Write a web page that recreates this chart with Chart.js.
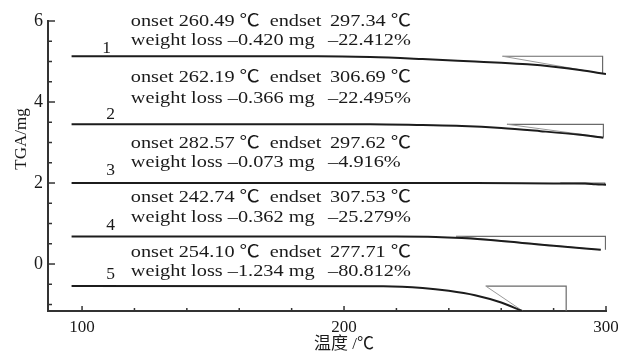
<!DOCTYPE html>
<html>
<head>
<meta charset="utf-8">
<script src="https://cdn.jsdelivr.net/npm/chart.js@4/dist/chart.umd.min.js"></script>
<style>
  html, body { margin: 0; padding: 0; background: #fff; }
  canvas { display: block; }
</style>
</head>
<body>
<canvas id="tga" width="618" height="357"></canvas>
<script>
// ---- TGA results for five samples ----
const sampleNames = ['1', '2', '3', '4', '5'];
const onsetC  = [260.49, 262.19, 282.57, 242.74, 254.10];
const endsetC = [297.34, 306.69, 297.62, 307.53, 277.71];
const lossMg  = ['–0.420', '–0.366', '–0.073', '–0.362', '–1.234'];
const lossPct = ['–22.412', '–22.495', '–4.916', '–25.279', '–80.812'];

// Mass curves (temperature in ℃, mass in mg, each trace offset vertically)
const temp1 = [96, 190, 210, 230, 250, 260, 270, 280, 290, 300];
const mass1 = [5.13, 5.13, 5.11, 5.06, 5.00, 4.97, 4.93, 4.87, 4.79, 4.69];
const temp2 = [96, 210, 230, 245, 260, 275, 290, 299];
const mass2 = [3.45, 3.45, 3.43, 3.41, 3.36, 3.28, 3.19, 3.12];
const temp3 = [96, 250, 280, 292, 296, 300];
const mass3 = [2.00, 2.00, 1.99, 1.985, 1.97, 1.96];
const temp4 = [96, 220, 235, 245, 260, 280, 298];
const mass4 = [0.68, 0.68, 0.67, 0.64, 0.57, 0.45, 0.35];
const temp5 = [96, 215, 230, 240, 250, 260, 268];
const mass5 = [-0.545, -0.55, -0.59, -0.66, -0.77, -0.95, -1.16];

// Step-evaluation box: right edge temperature, and mass at the end of the step
const boxEndC   = [298.7, 299.0, 299.5, 299.8, 284.8];
const boxLowMg  = [4.70, 3.13, 1.96, 0.35, -1.16];
// Tangent line end point
const tanEndC   = [298.7, 299.0, 299.5, 298.0, 268.2];
const tanEndMg  = [4.70, 3.13, 1.96, 0.35, -1.16];

// Axis ticks
const xTickValues = [100, 200, 300];
const yTickValues = [0, 2, 4, 6];

const temps  = [temp1, temp2, temp3, temp4, temp5];
const masses = [mass1, mass2, mass3, mass4, mass5];

// ---- layout of the text notes (data coordinates) ----
const notePos = {
  textX: 118.6, endsetX: 171.6, endValX: 194.6, pctX: 193.9,
  line1Y: [6.00, 4.60, 2.97, 1.65, 0.29],
  line2Y: [5.51, 4.08, 2.51, 1.15, -0.19],
  idX: [109.4, 110.9, 110.9, 110.9, 110.9],
  idY: [5.33, 3.70, 2.31, 0.95, -0.26]
};

const serif = '"Liberation Serif", "Times New Roman", "Noto Sans CJK SC", serif';

function pts(xs, ys) { return xs.map((v, i) => ({ x: v, y: ys[i] })); }

const datasets = [];
temps.forEach((t, i) => {
  datasets.push({
    data: pts(t, masses[i]),
    borderColor: '#1c1c1c', borderWidth: 2,
    cubicInterpolationMode: 'monotone', pointRadius: 0
  });
});
sampleNames.forEach((_, i) => {
  const base = masses[i][0];
  datasets.push({
    data: [{ x: onsetC[i], y: base }, { x: tanEndC[i], y: tanEndMg[i] }],
    borderColor: '#9a9a9a', borderWidth: 1, pointRadius: 0, tension: 0
  });
  datasets.push({
    data: [{ x: onsetC[i], y: base }, { x: boxEndC[i], y: base }, { x: boxEndC[i], y: boxLowMg[i] }],
    borderColor: '#6a6a6a', borderWidth: 1.2, pointRadius: 0, tension: 0
  });
});

function stretchText(ctx, text, px, py, sx) {
  ctx.save();
  ctx.translate(px, py);
  ctx.scale(sx, 1);
  ctx.fillText(text, 0, 0);
  ctx.restore();
}

const tgaDecor = {
  id: 'tgaDecor',
  afterDraw(chart) {
    const { ctx, chartArea: a, scales: { x, y } } = chart;
    ctx.save();
    // inward tick marks
    ctx.strokeStyle = '#333';
    ctx.lineWidth = 1.5;
    for (let k = -2; k <= 12; k++) {
      const v = k / 2;
      const py = y.getPixelForValue(v);
      const len = yTickValues.includes(v) ? 7 : 4;
      ctx.beginPath(); ctx.moveTo(a.left, py); ctx.lineTo(a.left + len, py); ctx.stroke();
    }
    for (let v = 100; v <= 300; v += 20) {
      const px = x.getPixelForValue(v);
      const len = xTickValues.includes(v) ? 5 : 3;
      ctx.beginPath(); ctx.moveTo(px, a.bottom); ctx.lineTo(px, a.bottom - len); ctx.stroke();
    }

    // notes for each trace
    ctx.fillStyle = '#1a1a1a';
    ctx.textBaseline = 'middle';
    ctx.font = '17.5px ' + serif;
    const sx = 1.16;
    sampleNames.forEach((name, i) => {
      const y1 = y.getPixelForValue(notePos.line1Y[i]);
      const y2 = y.getPixelForValue(notePos.line2Y[i]);
      ctx.textAlign = 'left';
      stretchText(ctx, 'onset ' + onsetC[i].toFixed(2) + ' ℃', x.getPixelForValue(notePos.textX), y1, sx);
      stretchText(ctx, 'endset', x.getPixelForValue(notePos.endsetX), y1, sx);
      stretchText(ctx, endsetC[i].toFixed(2) + ' ℃', x.getPixelForValue(notePos.endValX), y1, sx);
      stretchText(ctx, 'weight loss ' + lossMg[i] + ' mg', x.getPixelForValue(notePos.textX), y2, sx);
      stretchText(ctx, lossPct[i] + '%', x.getPixelForValue(notePos.pctX), y2, sx);
      ctx.textAlign = 'center';
      ctx.fillText(name, x.getPixelForValue(notePos.idX[i]), y.getPixelForValue(notePos.idY[i]));
    });

    // axis titles
    ctx.textAlign = 'center';
    ctx.font = '17px ' + serif;
    ctx.fillText('温度 /℃', x.getPixelForValue(200), 345);
    ctx.save();
    ctx.translate(22, 139);
    ctx.rotate(-Math.PI / 2);
    ctx.fillText('TGA/mg', 0, 0);
    ctx.restore();
    ctx.restore();
  }
};

new Chart(document.getElementById('tga'), {
  type: 'line',
  data: { datasets },
  plugins: [tgaDecor],
  options: {
    responsive: false,
    animation: false,
    layout: { padding: { top: 21, right: 12, left: 0, bottom: 0 } },
    plugins: { legend: { display: false }, tooltip: { enabled: false } },
    scales: {
      x: {
        type: 'linear', min: 87, max: 300,
        afterFit: s => { s.height = 46; s.paddingLeft = 0; s.paddingRight = 0; },
        afterBuildTicks: s => { s.ticks = xTickValues.map(v => ({ value: v })); },
        grid: { display: false, drawTicks: false },
        border: { display: true, color: '#333', width: 2 },
        ticks: { padding: 6, color: '#1a1a1a', font: { family: serif, size: 17 }, maxRotation: 0 }
      },
      y: {
        type: 'linear', min: -1.16, max: 6,
        afterFit: s => { s.width = 48; s.paddingTop = 0; s.paddingBottom = 0; },
        afterBuildTicks: s => { s.ticks = yTickValues.map(v => ({ value: v })); },
        grid: { display: false, drawTicks: false },
        border: { display: true, color: '#333', width: 2 },
        ticks: { padding: 5, color: '#1a1a1a', font: { family: serif, size: 18 } }
      }
    }
  }
});
</script>
</body>
</html>
